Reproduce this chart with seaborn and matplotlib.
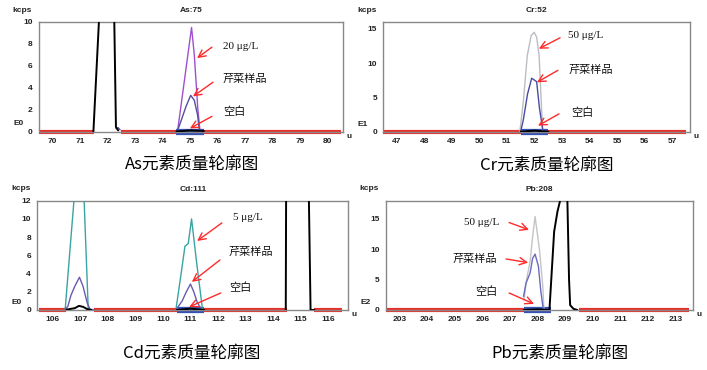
import numpy as np
import pandas as pd
import seaborn as sns
import matplotlib.pyplot as plt

sns.set_style('white')
plt.rcParams['font.family'] = ['Liberation Sans', 'DejaVu Sans']

# ---- As:75 ----
as_std_x = [74.54, 75.05, 75.15, 75.28, 75.36, 75.5]
as_std_y = [0, 9.5, 7.0, 2.0, 0, 0]
as_std_seg = [0, 0, 0, 0, 0, 0]
as_smp_x = [72.3, 72.38, 72.45, 74.53, 74.7, 74.85, 75.02, 75.15, 75.27, 75.33, 75.45]
as_smp_y = [0.3, 0.35, 0.15, 0, 1.2, 2.3, 3.3, 2.85, 1.5, 0.2, 0.05]
as_smp_seg = [0, 0, 0, 1, 1, 1, 1, 1, 1, 1, 1]
as_blk_x = [71.48, 71.68, 71.9, 72.2, 72.24, 72.3, 72.38, 74.5, 75.0, 75.5]
as_blk_y = [0, 10, 21, 17, 10, 0.4, 0.1, 0, 0.1, 0.05]
as_blk_seg = [0, 0, 0, 0, 0, 0, 0, 1, 1, 1]
as_red = [(69.5, 71.5), (72.5, 74.5), (75.5, 80.5)]
as_window = (74.5, 75.5)
as_ticks_x = list(range(70, 81))
as_ticks_y = [0, 2, 4, 6, 8, 10]

# ---- Cr:52 ----
cr_std_x = [51.47, 51.6, 51.74, 51.88, 51.99, 52.08, 52.17, 52.25, 52.3]
cr_std_y = [0, 4.5, 11.1, 14.0, 14.5, 13.8, 11.1, 4.0, 0]
cr_std_seg = [0, 0, 0, 0, 0, 0, 0, 0, 0]
cr_smp_x = [51.5, 51.6, 51.75, 51.9, 52.08, 52.18, 52.3, 52.5]
cr_smp_y = [0, 1.8, 5.5, 7.8, 7.3, 3.5, 0.3, 0]
cr_smp_seg = [0, 0, 0, 0, 0, 0, 0, 0]
cr_blk_x = [51.5, 52.0, 52.5]
cr_blk_y = [0, 0.15, 0]
cr_blk_seg = [0, 0, 0]
cr_red = [(46.5, 51.5), (52.5, 57.5)]
cr_window = (51.5, 52.5)
cr_ticks_x = list(range(47, 58))
cr_ticks_y = [0, 5, 10, 15]

# ---- Cd:111 ----
cd_std_x = [106.45, 106.77, 106.95, 107.14, 107.29, 107.4,
            110.47, 110.68, 110.8, 110.92, 111.04, 111.22, 111.44]
cd_std_y = [0, 12, 18, 12, 0, 0,
            0, 4.4, 7.0, 7.3, 10.0, 5.3, 0]
cd_std_seg = [0, 0, 0, 0, 0, 0, 1, 1, 1, 1, 1, 1, 1]
cd_smp_x = [106.45, 106.55, 106.66, 106.8, 106.97, 107.1, 107.25, 107.35, 107.5,
            110.47, 110.7, 110.85, 111.0, 111.12, 111.25, 111.4]
cd_smp_y = [0.1, 0.4, 1.6, 2.6, 3.6, 2.6, 0.8, 0.1, 0,
            0, 1.0, 2.0, 2.85, 2.0, 0.8, 0.1]
cd_smp_seg = [0, 0, 0, 0, 0, 0, 0, 0, 0, 1, 1, 1, 1, 1, 1, 1]
cd_blk_x = [106.5, 106.8, 106.95, 107.1, 107.25, 107.4, 110.5, 111.0, 111.5,
            114.46, 114.48, 114.9, 115.26, 115.36, 115.5]
cd_blk_y = [0.05, 0.2, 0.45, 0.35, 0.1, 0, 0, 0.15, 0,
            0, 20, 40, 20, 0, 0]
cd_blk_seg = [0, 0, 0, 0, 0, 0, 1, 1, 1, 2, 2, 2, 2, 2, 2]
cd_red = [(105.5, 106.5), (107.5, 110.5), (111.5, 114.5), (115.5, 116.5)]
cd_window = (110.5, 111.5)
cd_ticks_x = list(range(106, 117))
cd_ticks_y = [0, 2, 4, 6, 8, 10, 12]

# ---- Pb:208 ----
pb_std_x = [207.51, 207.6, 207.73, 207.82, 207.91, 208.07, 208.19, 208.23]
pb_std_y = [1.6, 5.0, 8.0, 12.0, 15.4, 9.9, 3.85, 0]
pb_std_seg = [0, 0, 0, 0, 0, 0, 0, 0]
pb_smp_x = [207.49, 207.58, 207.73, 207.82, 207.91, 208.03, 208.12, 208.21]
pb_smp_y = [2.2, 4.4, 6.1, 8.5, 9.2, 7.2, 3.0, 0]
pb_smp_seg = [0, 0, 0, 0, 0, 0, 0, 0]
pb_blk_x = [207.5, 208.0, 208.43, 208.6, 208.72, 208.81, 208.96, 209.08,
            209.14, 209.18, 209.3, 209.44]
pb_blk_y = [0, 0.1, 0, 12.9, 16.2, 17.9, 30, 18, 5.0, 0.8, 0.2, 0]
pb_blk_seg = [0, 0, 0, 0, 0, 0, 0, 0, 0, 0, 0, 0]
pb_red = [(202.5, 207.5), (209.5, 213.5)]
pb_window = (207.5, 208.5)
pb_ticks_x = list(range(203, 214))
pb_ticks_y = [0, 5, 10, 15]

W, H = 707, 370
panels = [
    dict(title='As:75', ename='E0', caption='As元素质量轮廓图',
         box=(38.7, 22, 343.3, 131.5), xlim=(69.49, 80.57), ylim=(0, 10),
         std=(as_std_x, as_std_y, as_std_seg, '#a050cc'),
         smp=(as_smp_x, as_smp_y, as_smp_seg, '#50509e'),
         blk=(as_blk_x, as_blk_y, as_blk_seg), red=as_red, win=as_window,
         xt=as_ticks_x, yt=as_ticks_y, cap=(192, 164.5),
         notes=[('20 μg/L', (76.19, 7.8), (75.79, 7.7), (75.25, 6.7), 'left'),
                ('芹菜样品', (76.19, 4.77), (75.83, 4.5), (75.1, 3.2), 'left'),
                ('空白', (76.19, 1.83), (75.79, 1.38), (74.99, 0.28), 'left')]),
    dict(title='Cr:52', ename='E1', caption='Cr元素质量轮廓图',
         box=(383.3, 22, 690, 131.7), xlim=(46.52, 57.64), ylim=(0, 16),
         std=(cr_std_x, cr_std_y, cr_std_seg, '#bcbcc4'),
         smp=(cr_smp_x, cr_smp_y, cr_smp_seg, '#4a4aa0'),
         blk=(cr_blk_x, cr_blk_y, cr_blk_seg), red=cr_red, win=cr_window,
         xt=cr_ticks_x, yt=cr_ticks_y, cap=(546.7, 165.5),
         notes=[('50 μg/L', (53.22, 14.1), (52.93, 13.7), (52.16, 12.1), 'left'),
                ('芹菜样品', (53.22, 8.95), (52.85, 8.95), (52.09, 7.2), 'left'),
                ('空白', (53.33, 2.74), (52.89, 2.6), (52.13, 0.87), 'left')]),
    dict(title='Cd:111', ename='E0', caption='Cd元素质量轮廓图',
         box=(37.3, 200.7, 348.3, 310), xlim=(105.44, 116.73), ylim=(0, 12),
         std=(cd_std_x, cd_std_y, cd_std_seg, '#3aa3a3'),
         smp=(cd_smp_x, cd_smp_y, cd_smp_seg, '#6a5ab0'),
         blk=(cd_blk_x, cd_blk_y, cd_blk_seg), red=cd_red, win=cd_window,
         xt=cd_ticks_x, yt=cd_ticks_y, cap=(192, 353),
         notes=[('5 μg/L', (112.54, 10.2), (112.14, 9.56), (111.24, 7.58), 'left'),
                ('芹菜样品', (112.4, 6.37), (112.07, 5.49), (111.05, 3.08), 'left'),
                ('空白', (112.4, 2.42), (112.1, 1.87), (110.95, 0.33), 'left')]),
    dict(title='Pb:208', ename='E2', caption='Pb元素质量轮廓图',
         box=(385.7, 200.7, 693.3, 310), xlim=(202.5, 213.64), ylim=(0, 18),
         std=(pb_std_x, pb_std_y, pb_std_seg, '#c4c4c8'),
         smp=(pb_smp_x, pb_smp_y, pb_smp_seg, '#6a6ac0'),
         blk=(pb_blk_x, pb_blk_y, pb_blk_seg), red=pb_red, win=pb_window,
         xt=pb_ticks_x, yt=pb_ticks_y, cap=(560, 353),
         notes=[('50 μg/L', (206.61, 14.4), (206.97, 14.4), (207.69, 13.2), 'right'),
                ('芹菜样品', (206.53, 8.4), (206.86, 8.4), (207.66, 7.8), 'right'),
                ('空白', (206.53, 3.1), (206.97, 2.8), (207.87, 1.0), 'right')]),
]

fig = plt.figure(figsize=(W / 100, H / 100), dpi=100)
fig.patch.set_facecolor('white')


def draw_trace(ax, xs, ys, seg, color, lw, z):
    df = pd.DataFrame({'mass': xs, 'kcps': ys, 'seg': seg})
    sns.lineplot(data=df, x='mass', y='kcps', units='seg', estimator=None,
                 sort=False, ax=ax, color=color, lw=lw, zorder=z)


for p in panels:
    l, t, r, b = p['box']
    ax = fig.add_axes([l / W, 1 - b / H, (r - l) / W, (b - t) / H])

    # baseline (red) and integration window (blue)
    for x0, x1 in p['red']:
        ax.plot([x0, x1], [0, 0], color='#e8302a', lw=3, solid_capstyle='butt',
                clip_on=False, zorder=2)
    w0, w1 = p['win']
    ax.plot([w0, w1], [0, 0], color='#3551b4', lw=4.5, solid_capstyle='butt',
            clip_on=False, zorder=2)

    sx, sy, ss, sc = p['std']
    draw_trace(ax, sx, sy, ss, sc, 1, 3)
    mx, my, ms, mc = p['smp']
    draw_trace(ax, mx, my, ms, mc, 1, 4)
    bx, by, bs = p['blk']
    draw_trace(ax, bx, by, bs, 'black', 1.4, 5)

    ax.set_xlim(*p['xlim'])
    ax.set_ylim(*p['ylim'])
    ax.set_xticks(p['xt'])
    ax.set_yticks(p['yt'])
    ax.tick_params(axis='both', which='both', direction='out', length=2.5, width=0.8,
                   color='#666666', labelsize=6, pad=2)
    for lab in ax.get_xticklabels() + ax.get_yticklabels():
        lab.set_fontweight('bold')
        lab.set_color('#222222')
    for s in ax.spines.values():
        s.set_color('#888888')
        s.set_linewidth(1)
    ax.set_xlabel('')
    ax.set_ylabel('')

    ax.set_title(p['title'], fontsize=6, fontweight='bold', pad=7, color='#222222')
    ax.annotate('kcps', xy=(0, 1), xycoords='axes fraction', xytext=(-19, 8.5),
                textcoords='offset points', ha='left', va='center', fontsize=6,
                fontweight='bold', color='#222222')
    ax.annotate(p['ename'], xy=(0, 0), xycoords='axes fraction', xytext=(-18.5, 5.5),
                textcoords='offset points', ha='left', va='center', fontsize=6,
                fontweight='bold', color='#222222')
    ax.annotate('u', xy=(1, 0), xycoords='axes fraction', xytext=(2.5, -3.5),
                textcoords='offset points', ha='left', va='center', fontsize=6,
                fontweight='bold', color='#222222')

    for label, txy, tail, tip, ha in p['notes']:
        ax.annotate('', xy=tip, xytext=tail,
                    arrowprops=dict(arrowstyle='->', color='#ff2a2a', lw=1,
                                    shrinkA=0, shrinkB=0, mutation_scale=13),
                    annotation_clip=False, zorder=6)
        ax.text(txy[0], txy[1], label, ha=ha, va='center', fontsize=8,
                family=['Liberation Serif', 'Noto Sans CJK SC'], color='#111111')

    cx, cy = p['cap']
    fig.text(cx / W, 1 - cy / H, p['caption'], ha='center', va='center',
             fontsize=12, family=['Noto Sans CJK SC', 'DejaVu Sans'], color='black')

fig.savefig('out.png', dpi=100, facecolor='white')
